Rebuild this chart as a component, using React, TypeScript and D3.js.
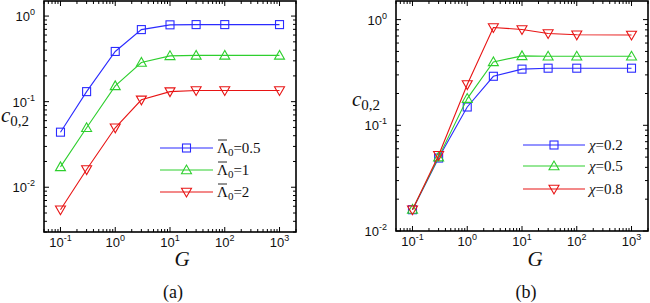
import React from 'react';
import * as d3 from 'd3';

// G values shared by every curve
const gValues = [0.1, 0.3, 1, 3, 10, 30, 100, 1000];

// panel (a): c_{0,2} for different Lambda_0
const lambdaLabels = ['0.5', '1', '2'];
const lambdaSeries = [
  [0.044, 0.131, 0.386, 0.695, 0.79, 0.795, 0.795, 0.795],
  [0.0173, 0.0495, 0.153, 0.287, 0.343, 0.347, 0.347, 0.347],
  [0.00546, 0.0161, 0.0495, 0.105, 0.131, 0.135, 0.135, 0.135],
];

// panel (b): c_{0,2} for different chi
const chiLabels = ['0.2', '0.5', '0.8'];
const chiSeries = [
  [0.0159, 0.049, 0.149, 0.291, 0.34, 0.347, 0.347, 0.347],
  [0.016, 0.05, 0.179, 0.398, 0.454, 0.45, 0.45, 0.45],
  [0.0159, 0.052, 0.243, 0.843, 0.807, 0.74, 0.718, 0.715],
];

const xTickExps = [-1, 0, 1, 2, 3];

const colors = ['#2b2bff', '#2ecf2e', '#e81414'];
const markers = ['square', 'up', 'down'];
const serif = "'Liberation Serif', serif";

function Marker({ kind, x, y, color }) {
  if (kind === 'square') {
    return <rect x={x - 4} y={y - 4} width={8} height={8} fill="none" stroke={color} strokeWidth={1.1} />;
  }
  const s = 5;
  const pts = kind === 'up'
    ? [[x, y - s], [x - s, y + s * 0.75], [x + s, y + s * 0.75]]
    : [[x, y + s], [x - s, y - s * 0.75], [x + s, y - s * 0.75]];
  return <polygon points={pts.map(p => p.join(',')).join(' ')} fill="none" stroke={color} strokeWidth={1.1} />;
}

function Pow({ x, y, exp, anchor }) {
  return (
    <text x={x} y={y} textAnchor={anchor} fontFamily="'Liberation Sans', Arial, sans-serif" fontSize={13} fill="#111">
      10<tspan dy={-6} fontSize={9}>{exp}</tspan>
    </text>
  );
}

function Panel({ box, yDomain, series, legendName, legendLabels, legend, yExps, yTitle, caption, gPos }) {
  const { left, right, top, bottom } = box;
  const x = d3.scaleLog().domain([0.05, 2000]).range([left, right]);
  const y = d3.scaleLog().domain(yDomain).range([bottom, top]);
  const line = d3.line().x(d => x(d[0])).y(d => y(d[1]));

  const xt = x.ticks().filter(v => v >= 0.05 && v <= 2000);
  const yt = y.ticks().filter(v => v >= yDomain[0] && v <= yDomain[1]);
  const isMajor = v => Math.abs(Math.log10(v) - Math.round(Math.log10(v))) < 1e-6;

  return (
    <g>
      {/* tick marks on all four sides */}
      {xt.map((v, i) => {
        const len = isMajor(v) ? 5 : 3;
        return (
          <g key={'x' + i} stroke="#000" strokeWidth={1}>
            <line x1={x(v)} x2={x(v)} y1={bottom} y2={bottom - len} />
            <line x1={x(v)} x2={x(v)} y1={top} y2={top + len} />
          </g>
        );
      })}
      {yt.map((v, i) => {
        const len = isMajor(v) ? 5 : 3;
        return (
          <g key={'y' + i} stroke="#000" strokeWidth={1}>
            <line x1={left} x2={left + len} y1={y(v)} y2={y(v)} />
            <line x1={right} x2={right - len} y1={y(v)} y2={y(v)} />
          </g>
        );
      })}
      <rect x={left} y={top} width={right - left} height={bottom - top} fill="none" stroke="#000" strokeWidth={1.6} />

      {xTickExps.map(e => (
        <Pow key={'xl' + e} x={x(Math.pow(10, e))} y={bottom + 15} exp={e} anchor="middle" />
      ))}
      {yExps.map(e => (
        <Pow key={'yl' + e} x={left - 9} y={y(Math.pow(10, e)) + 5} exp={e} anchor="end" />
      ))}

      {series.map((vals, si) => {
        const pts = gValues.map((g, i) => [g, vals[i]]);
        return (
          <g key={'s' + si}>
            <path d={line(pts)} fill="none" stroke={colors[si]} strokeWidth={1.1} />
            {pts.map((p, i) => (
              <Marker key={i} kind={markers[si]} x={x(p[0])} y={y(p[1])} color={colors[si]} />
            ))}
          </g>
        );
      })}

      {legendLabels.map((lab, i) => {
        const ly = legend.rows[i];
        const tx = legend.x1 + 4;
        return (
          <g key={'lg' + i}>
            <line x1={legend.x0} x2={legend.x1} y1={ly} y2={ly} stroke={colors[i]} strokeWidth={1.1} />
            <Marker kind={markers[i]} x={(legend.x0 + legend.x1) / 2} y={ly} color={colors[i]} />
            {legendName === 'lambda' && (
              <line x1={tx + 1} x2={tx + 10} y1={ly - 8} y2={ly - 8} stroke="#111" strokeWidth={0.9} />
            )}
            <text x={tx} y={ly + 5} fontFamily={serif} fontSize={15} fill="#111">
              {legendName === 'lambda'
                ? <><tspan>Λ</tspan><tspan dy={3} fontSize={11}>0</tspan><tspan dy={-3}>=</tspan></>
                : <><tspan fontStyle="italic">χ</tspan><tspan>=</tspan></>}
              {lab}
            </text>
          </g>
        );
      })}

      <text x={yTitle[0]} y={yTitle[1]} fontFamily={serif} fontSize={21} fill="#111">
        <tspan fontStyle="italic">c</tspan><tspan dy={4} fontSize={15}>0,2</tspan>
      </text>
      <text x={gPos[0]} y={gPos[1]} textAnchor="middle" fontFamily={serif} fontStyle="italic" fontSize={21} fill="#111">G</text>
      <text x={gPos[0] - 9} y={298} textAnchor="middle" fontFamily={serif} fontSize={18} fill="#111">{caption}</text>
    </g>
  );
}

export default function App() {
  return (
    <svg width={650} height={303} style={{ position: 'absolute', left: 0, top: 0, background: '#fff' }}>
      <Panel
        box={{ left: 44, right: 296, top: 1, bottom: 232 }}
        yDomain={[0.003, 1.5]}
        series={lambdaSeries}
        legendName="lambda"
        legendLabels={lambdaLabels}
        legend={{ x0: 160, x1: 213, rows: [148, 170, 192] }}
        yExps={[-2, -1, 0]}
        yTitle={[1, 122]}
        caption="(a)"
        gPos={[182, 266]}
      />
      <Panel
        box={{ left: 396, right: 648, top: 1, bottom: 231 }}
        yDomain={[0.01, 1.5]}
        series={chiSeries}
        legendName="chi"
        legendLabels={chiLabels}
        legend={{ x0: 523, x1: 585, rows: [145, 166, 189] }}
        yExps={[-2, -1, 0]}
        yTitle={[352, 106]}
        caption="(b)"
        gPos={[535, 266]}
      />
    </svg>
  );
}
